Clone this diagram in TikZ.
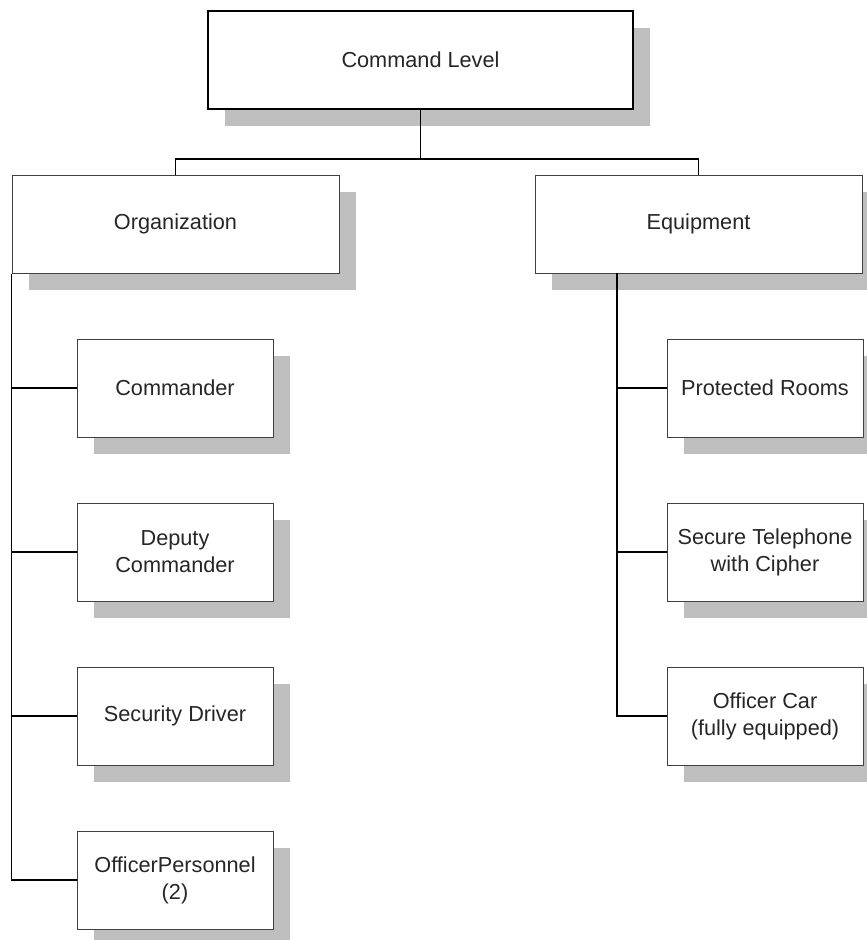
\documentclass[tikz,border=0pt]{standalone}
\usepackage{fontspec}
\setmainfont{Liberation Sans}
\usetikzlibrary{shadows}
\begin{document}
\begin{tikzpicture}[x=1pt,y=1pt,
  unit/.style={rectangle, fill=white, draw=black!75, line width=1pt,
    inner sep=0pt, align=center, text=black!85,
    font=\fontsize{21.7}{27}\selectfont,
    drop shadow={shadow xshift=17pt, shadow yshift=-17pt, fill=black!25, opacity=1, draw=none}},
  topunit/.style={unit, draw=black, line width=1.6pt, minimum width=425pt, minimum height=98pt},
  branch/.style={unit, minimum width=327pt, minimum height=98pt},
  leaf/.style={unit, minimum width=196pt, minimum height=98pt},
  link/.style={draw=black, line width=1.3pt}]
\useasboundingbox (0,0) rectangle (867,-940);

% top level
\node[topunit] (cmd) at (420.5,-60) {Command Level};

% second level
\node[branch] (org) at (175.5,-224) {Organization};
\node[branch] (equ) at (698.5,-224) {Equipment};

% organization members
\node[leaf] (o1) at (175,-388) {Commander};
\node[leaf] (o2) at (175,-552) {Deputy\\Commander};
\node[leaf] (o3) at (175,-716) {Security Driver};
\node[leaf] (o4) at (175,-880) {OfficerPersonnel\\(2)};

% equipment items
\node[leaf] (e1) at (765,-388) {Protected Rooms};
\node[leaf] (e2) at (765,-552) {Secure Telephone\\with Cipher};
\node[leaf] (e3) at (765,-716) {Officer Car\\(fully equipped)};

% connectors from the top
\coordinate (bus) at (420.5,-159);
\draw[link] (cmd.south) -- (bus);
\draw[link] (org.north) |- (bus) -| (equ.north);

% organization trunk
\draw[link] (org.south west) |- (o4.west);
\foreach \n in {o1,o2,o3} \draw[link] (org.south west |- \n.west) -- (\n.west);

% equipment trunk
\coordinate (etrunk) at (617,-273);
\draw[link] (etrunk) |- (e3.west);
\foreach \n in {e1,e2} \draw[link] (etrunk |- \n.west) -- (\n.west);
\end{tikzpicture}
\end{document}
